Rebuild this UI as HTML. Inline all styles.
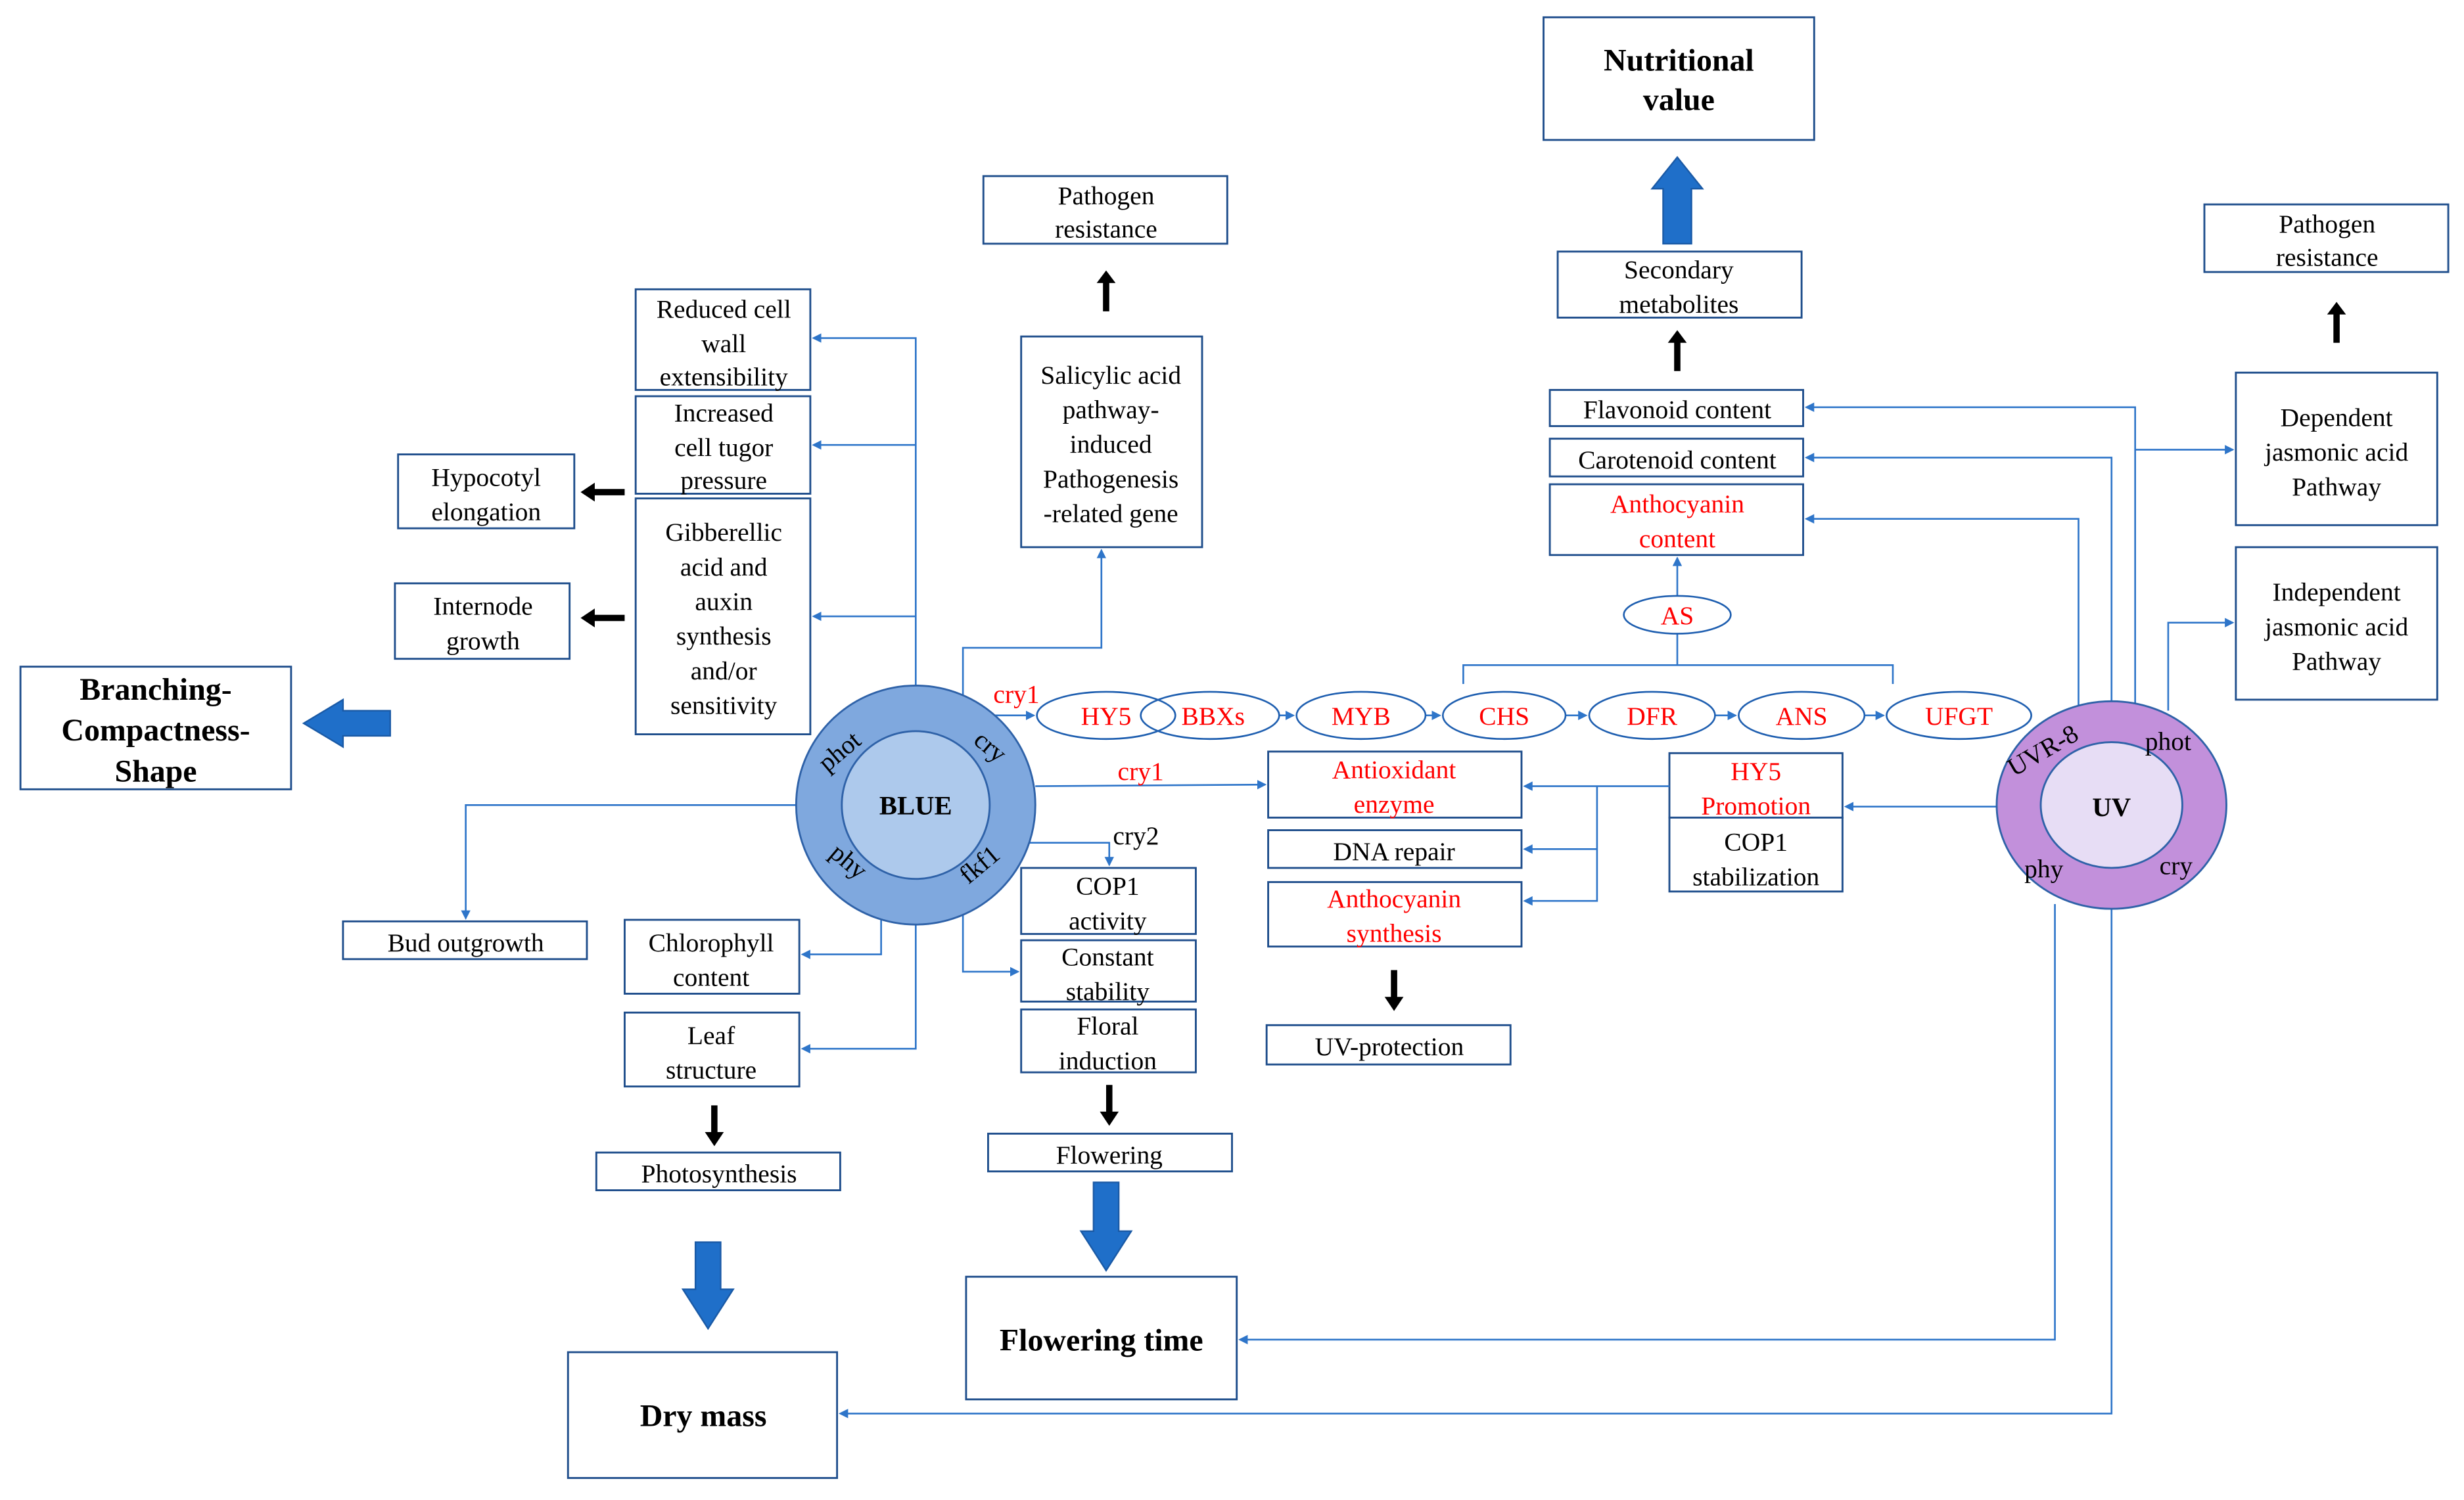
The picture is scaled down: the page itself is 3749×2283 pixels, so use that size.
<!DOCTYPE html>
<html><head><meta charset="utf-8"><style>
html,body{margin:0;padding:0;background:#fff;}
svg{display:block;}
text{font-family:"Liberation Serif",serif;font-size:16.5px;fill:#000;}
.r{fill:#ff0000;}
.b{font-weight:bold;font-size:20px;}
.box{fill:#fff;stroke:#1f4e8c;stroke-width:1.2;}
.ln{fill:none;stroke:#2e75c9;stroke-width:1.1;}
.el{fill:#fff;stroke:#1f5fb0;stroke-width:1.1;}
</style></head><body>
<svg width="3749" height="2283" viewBox="0 0 1566 954" preserveAspectRatio="none" xmlns="http://www.w3.org/2000/svg">
<defs>
<marker id="a" markerWidth="6" markerHeight="6" refX="5" refY="3" orient="auto" markerUnits="userSpaceOnUse"><path d="M0,0 L6,3 L0,6 z" fill="#2e75c9"/></marker>
</defs>
<g text-anchor="middle">
<rect class="box" x="981" y="11" width="172" height="78"/><text class="b" x="1067" y="45">Nutritional</text><text class="b" x="1067" y="70">value</text>
<rect class="box" x="625" y="112" width="155" height="43"/><text x="703" y="130">Pathogen</text><text x="703" y="151">resistance</text>
<rect class="box" x="1401" y="130" width="155" height="43"/><text x="1479" y="148">Pathogen</text><text x="1479" y="169">resistance</text>
<rect class="box" x="404" y="184" width="111" height="64"/><text x="460" y="202">Reduced cell</text><text x="460" y="224">wall</text><text x="460" y="245">extensibility</text>
<rect class="box" x="404" y="252" width="111" height="62"/><text x="460" y="268">Increased</text><text x="460" y="290">cell tugor</text><text x="460" y="311">pressure</text>
<rect class="box" x="404" y="317" width="111" height="150"/><text x="460" y="344">Gibberellic</text><text x="460" y="366">acid and</text><text x="460" y="388">auxin</text><text x="460" y="410">synthesis</text><text x="460" y="432">and/or</text><text x="460" y="454">sensitivity</text>
<rect class="box" x="253" y="289" width="112" height="47"/><text x="309" y="309">Hypocotyl</text><text x="309" y="331">elongation</text>
<rect class="box" x="251" y="371" width="111" height="48"/><text x="307" y="391">Internode</text><text x="307" y="413">growth</text>
<rect class="box" x="13" y="424" width="172" height="78"/><text class="b" x="99" y="445">Branching-</text><text class="b" x="99" y="471">Compactness-</text><text class="b" x="99" y="497">Shape</text>
<rect class="box" x="649" y="214" width="115" height="134"/><text x="706" y="244">Salicylic acid</text><text x="706" y="266">pathway-</text><text x="706" y="288">induced</text><text x="706" y="310">Pathogenesis</text><text x="706" y="332">-related gene</text>
<rect class="box" x="990" y="160" width="155" height="42"/><text x="1067" y="177">Secondary</text><text x="1067" y="199">metabolites</text>
<rect class="box" x="985" y="248" width="161" height="23"/><text x="1066" y="266">Flavonoid content</text>
<rect class="box" x="985" y="279" width="161" height="24"/><text x="1066" y="298">Carotenoid content</text>
<rect class="box" x="985" y="308" width="161" height="45"/><text class="r" x="1066" y="326">Anthocyanin</text><text class="r" x="1066" y="348">content</text>
<rect class="box" x="1421" y="237" width="128" height="97"/><text x="1485" y="271">Dependent</text><text x="1485" y="293">jasmonic acid</text><text x="1485" y="315">Pathway</text>
<rect class="box" x="1421" y="348" width="128" height="97"/><text x="1485" y="382">Independent</text><text x="1485" y="404">jasmonic acid</text><text x="1485" y="426">Pathway</text>
<rect class="box" x="806" y="478" width="161" height="42"/><text class="r" x="886" y="495">Antioxidant</text><text class="r" x="886" y="517">enzyme</text>
<rect class="box" x="806" y="528" width="161" height="24"/><text x="886" y="547">DNA repair</text>
<rect class="box" x="806" y="561" width="161" height="41"/><text class="r" x="886" y="577">Anthocyanin</text><text class="r" x="886" y="599">synthesis</text>
<rect class="box" x="1061" y="479" width="110" height="41"/><text class="r" x="1116" y="496">HY5</text><text class="r" x="1116" y="518">Promotion</text>
<rect class="box" x="1061" y="520" width="110" height="47"/><text x="1116" y="541">COP1</text><text x="1116" y="563">stabilization</text>
<rect class="box" x="805" y="652" width="155" height="25"/><text x="883" y="671">UV-protection</text>
<rect class="box" x="218" y="586" width="155" height="24"/><text x="296" y="605">Bud outgrowth</text>
<rect class="box" x="397" y="585" width="111" height="47"/><text x="452" y="605">Chlorophyll</text><text x="452" y="627">content</text>
<rect class="box" x="397" y="644" width="111" height="47"/><text x="452" y="664">Leaf</text><text x="452" y="686">structure</text>
<rect class="box" x="379" y="733" width="155" height="24"/><text x="457" y="752">Photosynthesis</text>
<rect class="box" x="649" y="552" width="111" height="42"/><text x="704" y="569">COP1</text><text x="704" y="591">activity</text>
<rect class="box" x="649" y="598" width="111" height="39"/><text x="704" y="614">Constant</text><text x="704" y="636">stability</text>
<rect class="box" x="649" y="642" width="111" height="40"/><text x="704" y="658">Floral</text><text x="704" y="680">induction</text>
<rect class="box" x="628" y="721" width="155" height="24"/><text x="705" y="740">Flowering</text>
<rect class="box" x="614" y="812" width="172" height="78"/><text class="b" x="700" y="859">Flowering time</text>
<rect class="box" x="361" y="860" width="171" height="80"/><text class="b" x="447" y="907">Dry mass</text>

<path class="ln" d="M582,444 V215 H517" marker-end="url(#a)"/>
<path class="ln" d="M582,283 H517" marker-end="url(#a)"/>
<path class="ln" d="M582,392 H517" marker-end="url(#a)"/>
<path class="ln" d="M612,444 V412 H700 V350" marker-end="url(#a)"/>
<path class="ln" d="M628,455 H657" marker-end="url(#a)"/>
<path class="ln" d="M658,500 L804,499" marker-end="url(#a)"/>
<path class="ln" d="M652,536 H705 V550" marker-end="url(#a)"/>
<path class="ln" d="M612,560 V618 H647" marker-end="url(#a)"/>
<path class="ln" d="M506,512 H296 V584" marker-end="url(#a)"/>
<path class="ln" d="M560,578 V607 H510" marker-end="url(#a)"/>
<path class="ln" d="M582,588 V667 H510" marker-end="url(#a)"/>
<path class="ln" d="M813,455 H822" marker-end="url(#a)"/>
<path class="ln" d="M906,455 H915" marker-end="url(#a)"/>
<path class="ln" d="M995,455 H1008" marker-end="url(#a)"/>
<path class="ln" d="M1090,455 H1103" marker-end="url(#a)"/>
<path class="ln" d="M1185,455 H1197" marker-end="url(#a)"/>
<path class="ln" d="M930,435 V423 H1203 V435 M1066,423 V403"/>
<path class="ln" d="M1066,379 V355" marker-end="url(#a)"/>
<path class="ln" d="M1269,513 H1173" marker-end="url(#a)"/>
<path class="ln" d="M1061,500 H969" marker-end="url(#a)"/>
<path class="ln" d="M1015,500 V573 H969" marker-end="url(#a)"/>
<path class="ln" d="M1015,540 H969" marker-end="url(#a)"/>
<path class="ln" d="M1357,448 V259 H1148" marker-end="url(#a)"/>
<path class="ln" d="M1342,448 V291 H1148" marker-end="url(#a)"/>
<path class="ln" d="M1321,450 V330 H1148" marker-end="url(#a)"/>
<path class="ln" d="M1357,286 H1419" marker-end="url(#a)"/>
<path class="ln" d="M1378,452 V396 H1419" marker-end="url(#a)"/>
<path class="ln" d="M1306,575 V852 H788" marker-end="url(#a)"/>
<path class="ln" d="M1342,578 V899 H534" marker-end="url(#a)"/>

<ellipse class="el" cx="1066" cy="391" rx="34" ry="12"/><text class="r" x="1066" y="397">AS</text>
<ellipse class="el" cx="703" cy="455" rx="44" ry="15"/>
<ellipse class="el" cx="769" cy="455" rx="44" ry="15" style="fill:none"/>
<text class="r" x="703" y="461">HY5</text><text class="r" x="771" y="461">BBXs</text>
<ellipse class="el" cx="865" cy="455" rx="41" ry="15"/><text class="r" x="865" y="461">MYB</text>
<ellipse class="el" cx="956" cy="455" rx="39" ry="15"/><text class="r" x="956" y="461">CHS</text>
<ellipse class="el" cx="1050" cy="455" rx="40" ry="15"/><text class="r" x="1050" y="461">DFR</text>
<ellipse class="el" cx="1145" cy="455" rx="40" ry="15"/><text class="r" x="1145" y="461">ANS</text>
<ellipse class="el" cx="1245" cy="455" rx="46" ry="15"/><text class="r" x="1245" y="461">UFGT</text>

<text class="r" x="646" y="447">cry1</text>
<text class="r" x="725" y="496">cry1</text>
<text x="722" y="537">cry2</text>

<circle cx="582" cy="512" r="76" fill="#7fa8de" stroke="#2f62a8" stroke-width="1.2"/>
<circle cx="582" cy="512" r="47" fill="#adc9ec" stroke="#2f62a8" stroke-width="1.2"/>
<text x="582" y="518" style="font-weight:bold;font-size:17px">BLUE</text>
<text x="537" y="482" transform="rotate(-40 537 482)">phot</text>
<text x="626" y="479" transform="rotate(40 626 479)">cry</text>
<text x="536" y="552" transform="rotate(40 536 552)">phy</text>
<text x="626" y="554" transform="rotate(-40 626 554)">fkf1</text>

<ellipse cx="1342" cy="512" rx="73" ry="66" fill="#c290db" stroke="#2f62a8" stroke-width="1.2"/>
<ellipse cx="1342" cy="512" rx="45" ry="40" fill="#e7ddf5" stroke="#2f62a8" stroke-width="1.2"/>
<text x="1342" y="519" style="font-weight:bold;font-size:17px">UV</text>
<text x="1301" y="482" transform="rotate(-30 1301 482)">UVR-8</text>
<text x="1378" y="477">phot</text>
<text x="1299" y="558">phy</text>
<text x="1383" y="556">cry</text>
</g>

<g fill="#000">
<path d="M701,198 V180 H697 L703,172 L709,180 H705 V198 z"/>
<path d="M1064,236 V218 H1060 L1066,210 L1072,218 H1068 V236 z"/>
<path d="M1483,218 V200 H1479 L1485,192 L1491,200 H1487 V218 z"/>
<path d="M397,311 H378 V307 L369,313 L378,319 V315 H397 z"/>
<path d="M397,391 H378 V387 L369,393 L378,399 V395 H397 z"/>
<path d="M452,703 V720 H448 L454,729 L460,720 H456 V703 z"/>
<path d="M703,690 V707 H699 L705,716 L711,707 H707 V690 z"/>
<path d="M884,617 V634 H880 L886,643 L892,634 H888 V617 z"/>
</g>
<g fill="#1f6fc9" stroke="#1a5aa6" stroke-width="1">
<path d="M1057,155 V120 H1050 L1066,100 L1082,120 H1075 V155 z"/>
<path d="M248,452 H218 V445 L193,460 L218,475 V468 H248 z"/>
<path d="M442,790 V820 H434 L450,845 L466,820 H458 V790 z"/>
<path d="M695,752 V783 H687 L703,808 L719,783 H711 V752 z"/>
</g>
</svg>
</body></html>
